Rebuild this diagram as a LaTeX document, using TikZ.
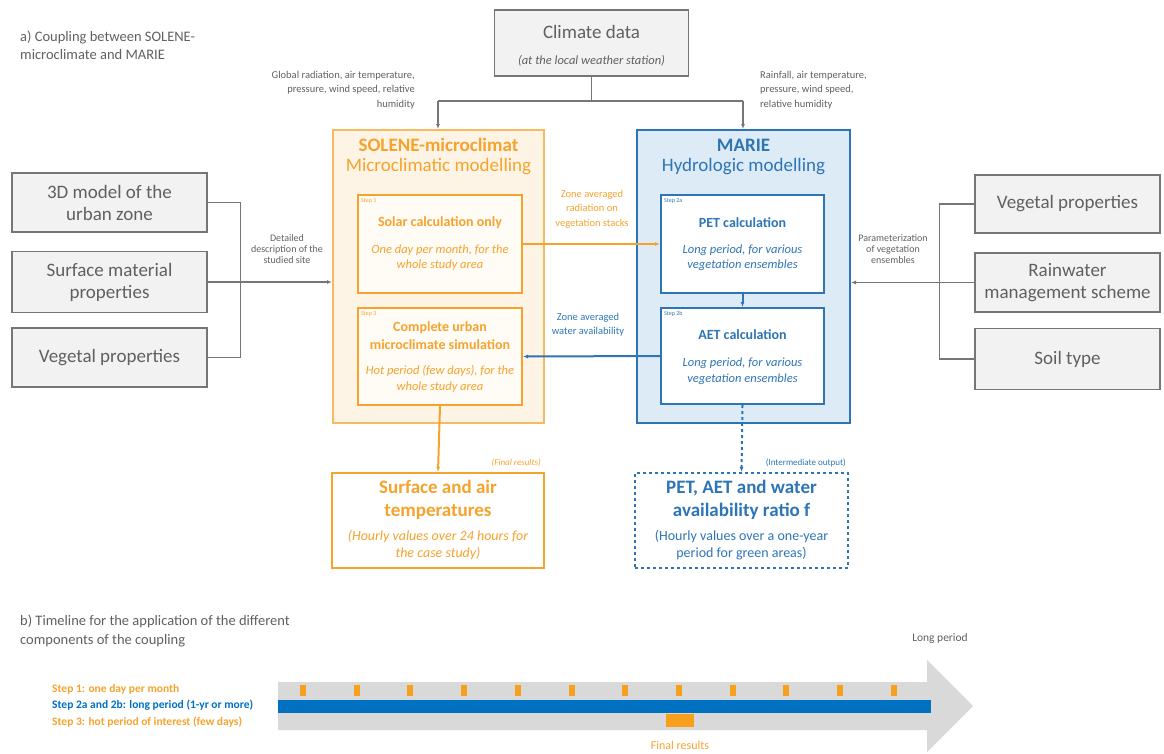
\documentclass[tikz,border=0pt]{standalone}
\usepackage{fontspec}
\setmainfont{Carlito}
\usetikzlibrary{arrows.meta}
\usetikzlibrary{calc}
\definecolor{solorange}{RGB}{245,163,45}
\definecolor{solfill}{RGB}{254,244,230}
\definecolor{marieblue}{RGB}{46,117,182}
\definecolor{mariefill}{RGB}{221,235,247}
\definecolor{barblue}{RGB}{0,112,192}
\definecolor{boxgray}{RGB}{242,242,242}
\definecolor{linegray}{RGB}{118,118,118}
\definecolor{textgray}{RGB}{96,96,96}
\definecolor{bargray}{RGB}{217,217,217}
\definecolor{tickorange}{RGB}{247,160,30}
\newcommand{\fsz}[2]{\fontsize{#1}{#2}\selectfont}

\begin{document}
\begin{tikzpicture}[x=1pt,y=-1pt,>={Latex[length=5pt,width=4pt]}]
            \tikzset{input/.style={draw=linegray, fill=boxgray, line width=1.3pt, text=textgray, align=center, font=\fsz{19}{22}, inner sep=0pt}}
            \tikzset{conn/.style={linegray, line width=1.3pt}}
            \tikzset{note/.style={text=textgray, font=\fsz{10}{11}, inner sep=0pt}}
            \tikzset{solbox/.style={draw=solorange, line width=2pt, inner sep=0pt}}
            \tikzset{mariebox/.style={draw=marieblue, line width=2pt, inner sep=0pt}}
            \tikzset{steptag/.style={font=\fsz{6}{7}, inner sep=0pt, anchor=north west}}
            \tikzset{stepname/.style={font=\fsz{14}{18}\bfseries, align=center}}
            \tikzset{stepinfo/.style={font=\fsz{12.5}{15.5}\itshape, align=center}}
            \tikzset{oarrow/.style={solorange, line width=2pt}}
            \tikzset{barrow/.style={marieblue, line width=2pt}}
            \useasboundingbox (0,0) rectangle (1164,753);
            % a) coupling
            \node[anchor=north west, align=left, font=\fsz{14.5}{18}, text=textgray, inner sep=0pt] (titlea) at (20,31) {a) Coupling between SOLENE-\\microclimate and MARIE};
            \node[input, minimum width=194pt, minimum height=66pt] (climate) at (591.5,43) {};
            \node[text=textgray, font=\fsz{19}{22}] (climtitle) at (591.5,32) {Climate data};
            \node[text=textgray, font=\fsz{12.5}{14}\itshape] (climsub) at (591.5,61) {(at the local weather station)};
            \node[note, font=\fsz{10.5}{14.5}, align=right, anchor=north east] (globalnote) at (415,71) {Global radiation, air temperature,\\pressure, wind speed, relative\\humidity};
            \node[note, font=\fsz{10.5}{14.5}, align=left, anchor=north west] (rainnote) at (760,71) {Rainfall, air temperature,\\pressure, wind speed,\\relative humidity};
            % inputs
            \node[input, minimum width=195pt, minimum height=59pt] (model) at (109.5,202.5) {3D model of the\\urban zone};
            \node[input, minimum width=195pt, minimum height=61pt] (surface) at (109.5,282) {Surface material\\properties};
            \node[input, minimum width=195pt, minimum height=59pt] (vegleft) at (109.5,357.5) {Vegetal properties};
            \node[input, minimum width=185pt, minimum height=58pt] (vegright) at (1067.5,204) {Vegetal properties};
            \node[input, minimum width=185pt, minimum height=59pt] (rain) at (1067.5,282.5) {Rainwater\\management scheme};
            \node[input, minimum width=185pt, minimum height=61pt] (soil) at (1067.5,359) {Soil type};
            % models
            \node[solbox, draw=solorange!75!white, fill=solfill, minimum width=211pt, minimum height=293pt] (solene) at (438.5,276.5) {};
            \node[text=solorange, font=\fsz{19}{22}\bfseries] (soltitle) at (438.5,145) {SOLENE-microclimat};
            \node[text=solorange, font=\fsz{19}{22}] (solsub) at (438.5,167) {Microclimatic modelling};
            \node[mariebox, fill=mariefill, minimum width=213pt, minimum height=293pt] (marie) at (743.5,276.5) {};
            \node[text=marieblue, font=\fsz{19}{22}\bfseries] (marietitle) at (743.5,145) {MARIE};
            \node[text=marieblue, font=\fsz{19}{22}] (mariesub) at (743.5,167) {Hydrologic modelling};
            % steps
            \node[solbox, fill=solfill!40!white, minimum width=164pt, minimum height=98pt] (step1) at (440,244) {};
            \node[steptag, text=solorange] (tag1) at ($(step1.north west)+(4,4)$) {Step 1};
            \node[stepname, text=solorange] (step1title) at (440,223) {Solar calculation only};
            \node[stepinfo, text=solorange] (step1sub) at (440,257.5) {One day per month, for the\\whole study area};
            \node[solbox, fill=solfill!40!white, minimum width=164pt, minimum height=97pt] (step3) at (440,356.5) {};
            \node[steptag, text=solorange] (tag3) at ($(step3.north west)+(4,4)$) {Step 3};
            \node[stepname, text=solorange] (step3title) at (440,336) {Complete urban\\microclimate simulation};
            \node[stepinfo, text=solorange] (step3sub) at (440,379) {Hot period (few days), for the\\whole study area};
            \node[mariebox, fill=white, minimum width=163pt, minimum height=98pt] (step2a) at (742.5,244) {};
            \node[steptag, text=marieblue] (tag2a) at ($(step2a.north west)+(4,4)$) {Step 2a};
            \node[stepname, text=marieblue] (step2atitle) at (742.5,223) {PET calculation};
            \node[stepinfo, text=marieblue] (step2asub) at (742.5,257.5) {Long period, for various\\vegetation ensembles};
            \node[mariebox, fill=white, minimum width=163pt, minimum height=96pt] (step2b) at (742.5,356) {};
            \node[steptag, text=marieblue] (tag2b) at ($(step2b.north west)+(4,4)$) {Step 2b};
            \node[stepname, text=marieblue] (step2btitle) at (742.5,335) {AET calculation};
            \node[stepinfo, text=marieblue] (step2bsub) at (742.5,371) {Long period, for various\\vegetation ensembles};
            % outputs
            \node[solbox, fill=white, minimum width=212pt, minimum height=95pt] (tempout) at (438,520.5) {};
            \node[text=solorange, font=\fsz{19}{23}\bfseries, align=center] (temptitle) at (438,500) {Surface and air\\temperatures};
            \node[text=solorange, font=\fsz{14}{17}\itshape, align=center] (tempsub) at (438,545.5) {(Hourly values over 24 hours for\\the case study)};
            \node[mariebox, dashed, fill=white, minimum width=213pt, minimum height=95pt] (ratioout) at (741.5,520.5) {};
            \node[text=marieblue, font=\fsz{19}{23}\bfseries, align=center] (ratiotitle) at (741.5,500) {PET, AET and water\\availability ratio f};
            \node[text=marieblue, font=\fsz{14}{17}, align=center] (ratiosub) at (741.5,545.5) {(Hourly values over a one-year\\period for green areas)};
            \node[note, text=solorange, font=\fsz{9}{10}\itshape, anchor=east] (finalnote) at (541,463) {(Final results)};
            \node[note, text=marieblue, font=\fsz{9}{10}, anchor=east] (internote) at (846,463) {(Intermediate output)};
            % connectors
            \coordinate (split) at (591.5,101);
            \coordinate (tosol) at (438,101);
            \coordinate (tomarie) at (743,101);
            \draw[conn] (climate.south) -- (split);
            \draw[conn] (tosol) -- (tomarie);
            \draw[conn,->] (tosol) -- (tosol |- solene.north);
            \draw[conn,->] (tomarie) -- (tomarie |- marie.north);
            \draw[conn] (model.east) -- ++(33,0) |- (vegleft.east);
            \draw[conn,->] (surface.east) -- (surface.east -| solene.west);
            \draw[conn] (vegright.west) -- ++(-35,0) |- (soil.west);
            \draw[conn,->] (rain.west) -- (rain.west -| marie.east);
            \node[note, align=center] (sitenote) at (287,249) {Detailed\\description of the\\studied site};
            \node[note, align=center] (paramnote) at (893,249) {Parameterization\\of vegetation\\ensembles};
            \draw[oarrow,->] (step1.east) -- (step2a.west);
            \draw[barrow,->] (step2b.west) -- (step3.east);
            \draw[barrow,->] (step2a.south) -- (step2b.north);
            \draw[oarrow,->] (step3.south) -- (tempout.north);
            \draw[barrow,dashed,->] (step2b.south) -- (ratioout.north);
            \node[note, font=\fsz{10.5}{14.5}, align=center, text=solorange] (radnote) at (592,209) {Zone averaged\\radiation on\\vegetation stacks};
            \node[note, font=\fsz{10.5}{14}, align=center, text=marieblue] (waternote) at (588,325) {Zone averaged\\water availability};
            % b) timeline
            \node[anchor=north west, align=left, font=\fsz{14.5}{19}, text=textgray, inner sep=0pt] (titleb) at (20,615) {b) Timeline for the application of the different\\components of the coupling};
            \fill[bargray] (278,682) -- (927,682) -- (927,660) -- (973,706) -- (927,752) -- (927,730) -- (278,730) -- cycle;
            \fill[barblue] (278,700) rectangle (931,713);
            \foreach \k in {0,...,11}
                \fill[tickorange] ({300+53.7*\k},685) rectangle ++(6,11);
            \fill[tickorange] (666,714) rectangle (694,727);
            \node[font=\fsz{12}{13}, text=solorange] (finalres) at (680,745) {Final results};
            \node[font=\fsz{11.5}{13}, text=textgray] (longper) at (940,638) {Long period};
            \node[anchor=north west, align=left, font=\fsz{11.5}{16.5}\bfseries, inner sep=0pt] (legend) at (52,684) {\textcolor{solorange}{Step 1: one day per month}\\\textcolor{barblue}{Step 2a and 2b: long period (1-yr or more)}\\\textcolor{solorange}{Step 3: hot period of interest (few days)}};
        \end{tikzpicture}
\end{document}
